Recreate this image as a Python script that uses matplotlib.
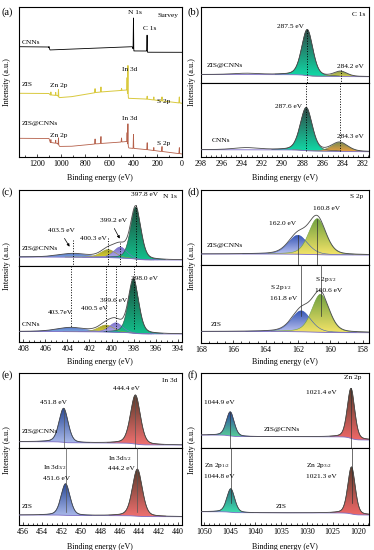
import numpy as np
import matplotlib
matplotlib.use('Agg')
import matplotlib.pyplot as plt
from matplotlib.colors import LinearSegmentedColormap
from matplotlib.ticker import MultipleLocator

plt.rcParams['font.family'] = ['Liberation Serif', 'DejaVu Serif']
plt.rcParams['mathtext.fontset'] = 'custom'
plt.rcParams['mathtext.rm'] = 'Liberation Serif'
plt.rcParams['mathtext.it'] = 'Liberation Serif:italic'

# ---------------- data ----------------
# (a) survey: background anchor points (eV, intensity) and peaks (eV, height)
CNNS_BASE_E = [1350, 1105, 1092, 409, 396, 290, 282, -5]
CNNS_BASE_I = [110.3, 110.0, 107.0, 110.3, 106.0, 106.0, 104.7, 104.7]
CNNS_PEAK_E = [1100, 399, 286]
CNNS_PEAK_I = [1.5, 32, 16.5]

ZIS_BASE_E = [1350, 1100, 1090, 1030, 1015, 900, 700, 560, 455, 440, 300, -5]
ZIS_BASE_I = [63.7, 63.5, 62.0, 61.5, 59.3, 60.5, 64.7, 66.0, 67.0, 58.7, 58.0, 53.7]
ZIS_PEAK_E = [1085, 1045, 1022, 718, 669, 498, 452, 445, 285, 230, 162, 18]
ZIS_PEAK_I = [3, 3, 7, 4, 5, 2, 14, 30, 3, 3, 4, 6]

ZISC_BASE_E = [1350, 1100, 1090, 1030, 1012, 900, 720, 500, 455, 438, 300, -5]
ZISC_BASE_I = [18.7, 18.5, 14.5, 13.5, 10.5, 10.8, 13.0, 15.0, 15.5, 9.0, 7.5, 3.0]
ZISC_PEAK_E = [1085, 1045, 1022, 718, 669, 498, 452, 445, 399, 285, 230, 162, 18]
ZISC_PEAK_I = [3, 3, 7, 5, 7, 4, 10, 21.5, 14, 7, 3, 5, 6]

# (b) C 1s  (centers eV, heights, FWHM, background [high-BE, low-BE])
C1S_TOP_C = [293.5, 287.5, 284.2]
C1S_TOP_H = [1.2, 46, 5]
C1S_TOP_W = [3.0, 1.3, 1.5]
C1S_TOP_BG = [8.5, 6.3]
C1S_BOT_C = [293.5, 287.6, 284.3]
C1S_BOT_H = [2.0, 43, 9]
C1S_BOT_W = [3.0, 1.4, 1.9]
C1S_BOT_BG = [7.3, 5.3]

# (c) N 1s
N1S_TOP_C = [403.5, 400.3, 399.2, 397.8]
N1S_TOP_H = [3.5, 8, 11, 52]
N1S_TOP_W = [3.0, 1.6, 1.4, 1.1]
N1S_TOP_BG = [9.0, 6.0]
N1S_BOT_C = [403.7, 400.5, 399.6, 398.0]
N1S_BOT_H = [4, 7, 9.5, 54]
N1S_BOT_W = [3.0, 1.6, 1.4, 1.1]
N1S_BOT_BG = [10.5, 8.0]

# (d) S 2p
S2P_TOP_C = [162.0, 160.8]
S2P_TOP_H = [19, 36]
S2P_TOP_W = [1.4, 1.25]
S2P_TOP_BG = [11.0, 10.0]
S2P_BOT_C = [161.8, 160.6]
S2P_BOT_H = [21, 38]
S2P_BOT_W = [1.4, 1.25]
S2P_BOT_BG = [11.5, 10.3]

# (e) In 3d
IN3D_TOP_C = [451.8, 444.4]
IN3D_TOP_H = [34, 49]
IN3D_TOP_W = [1.1, 1.2]
IN3D_TOP_BG = [6.3, 3.0]
IN3D_BOT_C = [451.6, 444.2]
IN3D_BOT_H = [31.5, 47]
IN3D_BOT_W = [1.1, 1.2]
IN3D_BOT_BG = [10.0, 8.3]

# (f) Zn 2p
ZN2P_TOP_C = [1044.9, 1021.4]
ZN2P_TOP_H = [24, 50]
ZN2P_TOP_W = [1.8, 1.7]
ZN2P_TOP_BG = [13.0, 8.0]
ZN2P_BOT_C = [1044.8, 1021.3]
ZN2P_BOT_H = [23.5, 47]
ZN2P_BOT_W = [1.8, 1.7]
ZN2P_BOT_BG = [13.3, 10.0]

# ---------------- figure ----------------
W, H = 374, 550
fig = plt.figure(figsize=(W / 100, H / 100), dpi=100)

BG_COLOR = '#7b6cc4'
LINE_COLOR = '#4a4a4a'


def px_axes(x0, y0, x1, y1, ticks=True):
    ax = fig.add_axes([x0 / W, 1 - y1 / H, (x1 - x0) / W, (y1 - y0) / H])
    for s in ax.spines.values():
        s.set_linewidth(0.8)
    ax.set_yticks([])
    if ticks:
        ax.tick_params(axis='x', which='both', direction='in', width=0.5,
                       labelsize=5.8, pad=2.2)
        ax.tick_params(axis='x', which='major', length=2.5)
        ax.tick_params(axis='x', which='minor', length=1.3)
    else:
        ax.set_xticks([])
    return ax


def ftext(x, y, s, size=5.3, ha='left', **kw):
    fig.text(x / W, 1 - y / H, s, fontsize=size, ha=ha, va='center', **kw)


def pv(x, c, h, w, eta=0.3):
    d = (x - c) / w
    return h * (eta / (1 + 4 * d * d) + (1 - eta) * np.exp(-4 * np.log(2) * d * d))


def grad_fill(ax, x, y0, y1, ctop, cbot):
    poly = ax.fill_between(x, y0, y1, facecolor='none', edgecolor='none')
    path = poly.get_paths()[0]
    cmap = LinearSegmentedColormap.from_list('g', [cbot, ctop])
    grad = np.linspace(0, 1, 128).reshape(-1, 1)
    im = ax.imshow(grad, cmap=cmap, aspect='auto', origin='lower',
                   extent=(x.min(), x.max(), y0.min(), y1.max()), zorder=1,
                   interpolation='bilinear')
    im.set_clip_path(path, transform=ax.transData)


def xps(ax, xlim, ymax, centers, heights, widths, bgv, colors):
    x = np.linspace(min(xlim), max(xlim), 1600)
    comps = [pv(x, c, h, w) for c, h, w in zip(centers, heights, widths)]
    total = np.sum(comps, axis=0)
    cum = np.cumsum(total)
    cum = cum / cum[-1]
    bg = bgv[1] + (bgv[0] - bgv[1]) * cum
    for comp, col in zip(comps, colors):
        if col is None:
            continue
        m = comp > 0.012 * comp.max()
        grad_fill(ax, x[m], bg[m], bg[m] + comp[m], col[0], col[1])
        ax.plot(x[m], bg[m] + comp[m], color=col[0], lw=0.4, zorder=2)
    ax.plot(x, bg, color=BG_COLOR, lw=0.6, zorder=3)
    ax.plot(x, bg + total, color=LINE_COLOR, lw=0.6, zorder=4)
    ax.set_xlim(xlim)
    ax.set_ylim(0, ymax)
    tops = [float(np.interp(c, x, bg)) + h for c, h in zip(centers, heights)]
    bases = [float(np.interp(c, x, bg)) for c in centers]
    return tops, bases


def vline(ax, x, y0, y1, ls=':', color='k', lw=0.7):
    ax.plot([x, x], [y0, y1], ls=ls, color=color, lw=lw, zorder=5)


def labels(cx, ylab_x, ylab_y, xlab_y):
    ftext(cx, xlab_y, 'Binding energy (eV)', size=5.8, ha='center')
    fig.text(ylab_x / W, 1 - ylab_y / H, 'Intensity (a.u.)', fontsize=5.9,
             rotation=90, ha='center', va='center')


# ---- (a) survey ----
ax = px_axes(19, 7, 182, 157)
xs = np.arange(-5, 1350.01, 0.25)


def survey(be, bi, pe, pi):
    be = np.array(be, float)
    o = np.argsort(be)
    y = np.interp(xs, be[o], np.array(bi, float)[o])
    for e, h in zip(pe, pi):
        y = y + h * np.exp(-4 * np.log(2) * ((xs - e) / 2.5) ** 2)
    return y


ax.plot(xs, survey(CNNS_BASE_E, CNNS_BASE_I, CNNS_PEAK_E, CNNS_PEAK_I), color='k', lw=0.6)
ax.plot(xs, survey(ZIS_BASE_E, ZIS_BASE_I, ZIS_PEAK_E, ZIS_PEAK_I), color='#d9c93e', lw=0.7)
ax.plot(xs, survey(ZISC_BASE_E, ZISC_BASE_I, ZISC_PEAK_E, ZISC_PEAK_I), color='#b5604a', lw=0.6)
ax.set_xlim(1350, -4)
ax.set_ylim(0, 150)
ax.xaxis.set_major_locator(MultipleLocator(200))
ax.xaxis.set_minor_locator(MultipleLocator(100))
labels(100, 7, 82, 178)
ftext(2, 12, '(a)', size=7.5)
ftext(22, 43, 'CNNs')
ftext(157, 15, 'Survey')
ftext(128, 13, 'N 1s')
ftext(143, 28, 'C 1s')
ftext(22, 85, 'ZIS')
ftext(50, 85, 'Zn 2p')
ftext(122, 70, 'In 3d')
ftext(157, 101, 'S 2p')
ftext(22, 124, 'ZIS@CNNs')
ftext(122, 118, 'In 3d')
ftext(50, 135, 'Zn 2p')
ftext(157, 144, 'S 2p')

# ---- (b) C 1s ----
XL_B = (298, 281.4)
axt = px_axes(201, 7, 369, 83, ticks=False)
axb = px_axes(201, 83, 369, 157)
t_top, _ = xps(axt, XL_B, 76, C1S_TOP_C, C1S_TOP_H, C1S_TOP_W, C1S_TOP_BG,
               [None, ('#2f4a47', '#10dca8'), ('#8a9a48', '#d8d050')])
_, b_bot = xps(axb, XL_B, 74, C1S_BOT_C, C1S_BOT_H, C1S_BOT_W, C1S_BOT_BG,
               [None, ('#2f4a47', '#10dca8'), ('#7a8a50', '#f0a040')])
vline(axt, C1S_TOP_C[1], t_top[1], 0)
vline(axt, C1S_TOP_C[2], t_top[2] + 2, 0)
vline(axb, C1S_BOT_C[1], 74, b_bot[1])
vline(axb, C1S_BOT_C[2], 74, b_bot[2])
axb.xaxis.set_major_locator(MultipleLocator(2))
axb.xaxis.set_minor_locator(MultipleLocator(0.5))
labels(285, 192, 82, 178)
ftext(187, 12, '(b)', size=7.5)
ftext(352, 14, 'C 1s')
ftext(277, 27, '287.5 eV')
ftext(337, 66, '284.2 eV')
ftext(207, 66, 'ZIS@CNNs')
ftext(275, 107, '287.6 eV')
ftext(337, 137, '284.3 eV')
ftext(212, 141, 'CNNs')

# ---- (c) N 1s ----
XL_C = (408.4, 393.6)
axt = px_axes(19, 190, 182, 266, ticks=False)
axb = px_axes(19, 266, 182, 342)
colors_c = [('#5a78c8', '#8ec0ec'), ('#a0a030', '#f0e030'),
            ('#7a70c8', '#bdb5f2'), ('#1f4d3d', '#12c08c')]
t_top, _ = xps(axt, XL_C, 76, N1S_TOP_C, N1S_TOP_H, N1S_TOP_W, N1S_TOP_BG, colors_c)
_, b_bot = xps(axb, XL_C, 76, N1S_BOT_C, N1S_BOT_H, N1S_BOT_W, N1S_BOT_BG, colors_c)
for c, y0 in zip(N1S_TOP_C, [26, 28, 23, 61]):
    vline(axt, c, y0, 0)
for c, y1 in zip(N1S_BOT_C, [15, 10, 12, 12]):
    vline(axb, c, 76, y1)
axb.xaxis.set_major_locator(MultipleLocator(2))
axb.xaxis.set_minor_locator(MultipleLocator(0.5))
labels(100, 7, 266, 362)
ftext(2, 192, '(c)', size=7.5)
ftext(163, 196, 'N 1s')
ftext(131, 194, '397.8 eV')
ftext(100, 220, '399.2 eV')
ftext(80, 238, '400.3 eV')
ftext(48, 230, '403.5 eV')
ftext(22, 249, 'ZIS@CNNs')
ftext(131, 278, '398.0 eV')
ftext(100, 300, '399.6 eV')
ftext(81, 308, '400.5 eV')
ftext(48, 313, '403.7eV')
ftext(22, 325, 'CNNs')
for (x0, y0, x1, y1) in [(63, 236, 71, 249), (113, 226, 121, 241),
                         (63, 317, 70, 324), (111, 305, 115, 315)]:
    axt.annotate('', xy=(x1 / W, 1 - y1 / H), xytext=(x0 / W, 1 - y0 / H),
                 xycoords='figure fraction', textcoords='figure fraction',
                 arrowprops=dict(arrowstyle='-|>', lw=0.5, color='k',
                                 mutation_scale=4), annotation_clip=False)

# ---- (d) S 2p ----
XL_D = (168, 157.6)
axt = px_axes(201, 190, 369, 265, ticks=False)
axb = px_axes(201, 265, 369, 343)
colors_d = [('#3858b8', '#c0c6f2'), ('#70a040', '#f4e468')]
t_top, _ = xps(axt, XL_D, 75, S2P_TOP_C, S2P_TOP_H, S2P_TOP_W, S2P_TOP_BG, colors_d)
xps(axb, XL_D, 78, S2P_BOT_C, S2P_BOT_H, S2P_BOT_W, S2P_BOT_BG, colors_d)
for c, y0 in zip(S2P_TOP_C, t_top):
    vline(axt, c, y0, 0, ls='-', color='#333333', lw=0.5)
for c in S2P_BOT_C:
    vline(axb, c, 78, 27, ls='-', color='#333333', lw=0.5)
axb.xaxis.set_major_locator(MultipleLocator(2))
axb.xaxis.set_minor_locator(MultipleLocator(0.5))
labels(285, 192, 266, 362)
ftext(187, 192, '(d)', size=7.5)
ftext(350, 196, 'S 2p')
ftext(313, 208, '160.8 eV')
ftext(269, 223, '162.0 eV')
ftext(207, 245, 'ZIS@CNNs')
ftext(270, 287, r'S 2p$_{\mathrm{1/2}}$')
ftext(270, 298, '161.8 eV')
ftext(315, 280, r'S 2p$_{\mathrm{3/2}}$')
ftext(315, 290, '160.6 eV')
ftext(211, 324, 'ZIS')

# ---- (e) In 3d ----
XL_E = (456.4, 439.6)
axt = px_axes(19, 373, 182, 448, ticks=False)
axb = px_axes(19, 448, 182, 525)
colors_e = [('#2a4a98', '#aab9ea'), ('#5a3a2a', '#f07070')]
t_top, _ = xps(axt, XL_E, 75, IN3D_TOP_C, IN3D_TOP_H, IN3D_TOP_W, IN3D_TOP_BG, colors_e)
xps(axb, XL_E, 77, IN3D_BOT_C, IN3D_BOT_H, IN3D_BOT_W, IN3D_BOT_BG, colors_e)
for c, y0 in zip(IN3D_TOP_C, t_top):
    vline(axt, c, y0, 0, ls='-', color='#555555', lw=0.5)
for c in IN3D_BOT_C:
    vline(axb, c, 77, 13, ls='-', color='#555555', lw=0.5)
axb.xaxis.set_major_locator(MultipleLocator(2))
axb.xaxis.set_minor_locator(MultipleLocator(0.5))
labels(100, 7, 450, 547)
ftext(2, 375, '(e)', size=7.5)
ftext(162, 380, 'In 3d')
ftext(113, 389, '444.4 eV')
ftext(40, 402, '451.8 eV')
ftext(22, 432, 'ZIS@CNNs')
ftext(108, 459, r'In 3d$_{\mathrm{5/2}}$')
ftext(108, 469, '444.2 eV')
ftext(43, 468, r'In 3d$_{\mathrm{3/2}}$')
ftext(43, 478, '451.6 eV')
ftext(22, 506, 'ZIS')

# ---- (f) Zn 2p ----
XL_F = (1050.6, 1017.9)
axt = px_axes(201, 373, 369, 448, ticks=False)
axb = px_axes(201, 448, 369, 525)
t_top, _ = xps(axt, XL_F, 75, ZN2P_TOP_C, ZN2P_TOP_H, ZN2P_TOP_W, ZN2P_TOP_BG,
               [('#2a4aa0', '#58d098'), ('#5a3a2a', '#f06868')])
xps(axb, XL_F, 77, ZN2P_BOT_C, ZN2P_BOT_H, ZN2P_BOT_W, ZN2P_BOT_BG,
    [('#2a6a7a', '#40e0b0'), ('#5a3a2a', '#f06868')])
for c, y0 in zip(ZN2P_TOP_C, t_top):
    vline(axt, c, y0, 0, ls='-', color='#333333', lw=0.5)
for c in ZN2P_BOT_C:
    vline(axb, c, 77, 22, ls='-', color='#333333', lw=0.5)
axb.xaxis.set_major_locator(MultipleLocator(5))
axb.xaxis.set_minor_locator(MultipleLocator(1))
labels(285, 192, 450, 547)
ftext(187, 375, '(f)', size=7.5)
ftext(344, 378, 'Zn 2p')
ftext(306, 392, '1021.4 eV')
ftext(204, 403, '1044.9 eV')
ftext(264, 429, 'ZIS@CNNs')
ftext(204, 466, r'Zn 2p$_{\mathrm{1/2}}$')
ftext(204, 476, '1044.8 eV')
ftext(306, 466, r'Zn 2p$_{\mathrm{3/2}}$')
ftext(306, 476, '1021.3 eV')
ftext(276, 506, 'ZIS')

fig.savefig('out.png', dpi=100)
